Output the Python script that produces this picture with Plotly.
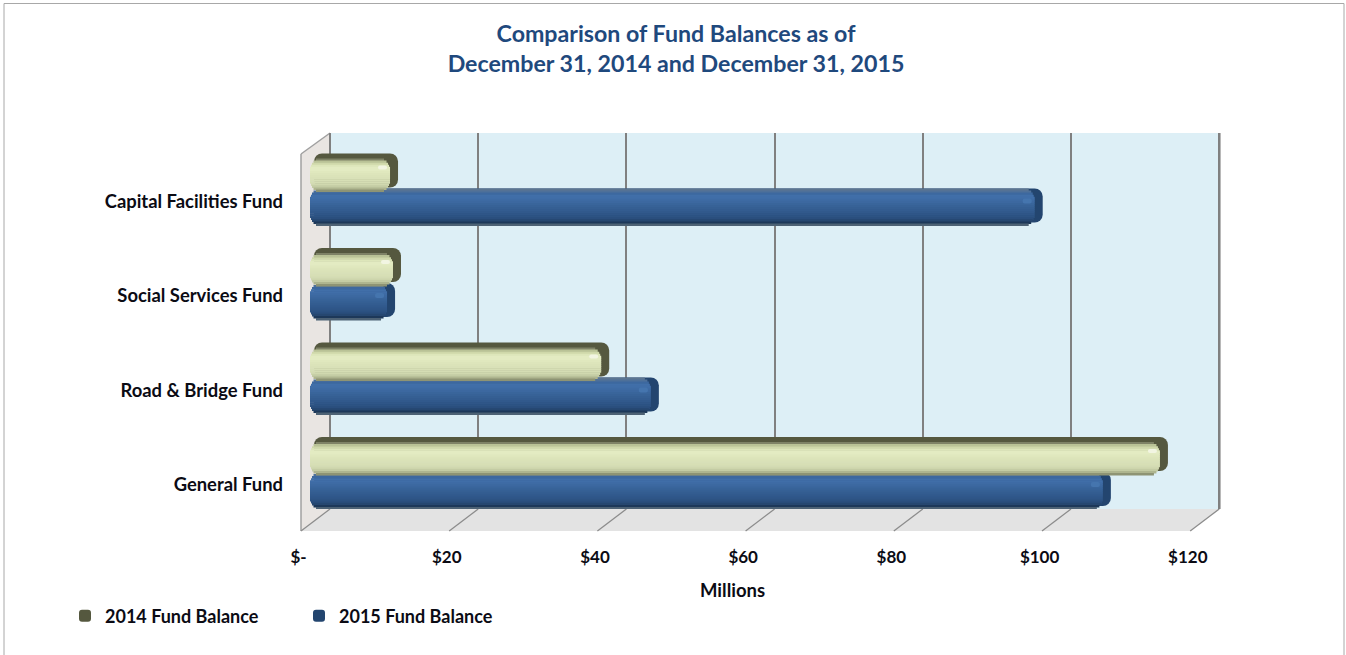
import plotly.graph_objects as go

categories = ["General Fund", "Road & Bridge Fund", "Social Services Fund", "Capital Facilities Fund"]
balance_2014 = [114.7, 39.3, 11.2, 10.8]
balance_2015 = [107.0, 46.0, 10.4, 97.8]
tick_values = [0, 20, 40, 60, 80, 100, 120]
tick_labels = ["$-", "$20", "$40", "$60", "$80", "$100", "$120"]

W, H = 1346, 655
UNIT = 7.41           # pixels per $1 million
ROW = 94.5            # pixels per category
ROW0 = 473            # pixel row of the first category
L, R, T, B = 296, 1222, 133, 509
FONT = "Lato"
INK = "#0B0B14"


def fx(p):
    return p / W


def fy(p):
    return 1 - p / H


def xrange_for(zero_px):
    return [(L - zero_px) / UNIT, (R - zero_px) / UNIT]


def poly(points, fill, line="rgba(0,0,0,0)", width=0):
    path = "M" + " L".join(f"{fx(x):.5f},{fy(y):.5f}" for x, y in points) + " Z"
    return dict(type="path", xref="paper", yref="paper", path=path, fillcolor=fill,
                line=dict(color=line, width=width), layer="below")


def seg(x0, y0, x1, y1, color="#8C8C8C", width=1.3):
    return dict(type="line", xref="paper", yref="paper", x0=fx(x0), y0=fy(y0), x1=fx(x1), y1=fy(y1),
                line=dict(color=color, width=width), layer="below")


shapes = [
    dict(type="rect", xref="paper", yref="paper", x0=fx(4), x1=fx(1344), y0=-0.05, y1=fy(3.5),
         line=dict(color="#A8A8A8", width=1), fillcolor="white", layer="below"),
    poly([(330, T), (1220, T), (1220, B), (330, B)], "#DDEFF6"),
    poly([(301, B + 22), (1190, B + 22), (1220, B), (330, B)], "#E3E3E3"),
    poly([(301, 154), (330, T), (330, B), (301, B + 22)], "#E9E5E2"),
    seg(301, 154, 301, B + 22, "#A0A0A0", 1.5),
    seg(301, 154, 330, T, "#A0A0A0", 1.5),
    seg(330, T, 330, B, "#A0A0A0", 1.5),
    seg(1220, T, 1220, B, "#A0A0A0", 1.5),
]
for k in range(len(tick_values)):
    front, back = 301 + 148.2 * k, 330 + 148.2 * k
    shapes.append(seg(front, B + 22, back, B))

fig = go.Figure()


def band(values, name, top, bottom, inset, color, radius=0, legend=False, grow=0):
    """One horizontal strip of a bar; top/bottom are pixels relative to the row centre."""
    i = inset / UNIT
    fig.add_trace(go.Bar(
        y=categories, x=[v - 2 * i + grow / UNIT for v in values], base=[i] * len(values),
        orientation="h", xaxis="x2", yaxis="y", name=name, showlegend=legend,
        offset=-bottom / ROW, width=(bottom - top) / ROW,
        marker=dict(color=color, line=dict(width=0), cornerradius=radius),
        cliponaxis=False, hoverinfo="x+y" if legend else "skip",
    ))


def face(values, name, top, bottom, stops):
    n = len(stops)
    h = (bottom - top) / n
    for j, c in enumerate(stops):
        edge = min(j, n - 1 - j)
        inset = {0: 6, 1: 3.5, 2: 2, 3: 1}.get(edge, 0)
        band(values, name, top + j * h, top + (j + 1) * h + 0.6, inset, c)


def glint(values, name, top, bottom, color):
    """Small specular spot just inside the bar's right end."""
    fig.add_trace(go.Bar(
        y=categories, x=[9 / UNIT] * len(values), base=[v - 12 / UNIT for v in values],
        orientation="h", xaxis="x2", yaxis="y", name=name, showlegend=False,
        offset=-bottom / ROW, width=(bottom - top) / ROW,
        marker=dict(color=color, line=dict(width=0), cornerradius=2),
        cliponaxis=False, hoverinfo="skip",
    ))


# 2015 series (drawn first, sits behind the 2014 bars)
band(balance_2015, "2015 Fund Balance", -1, 33, 4, "#23456F", radius=8, legend=True, grow=12)
face(balance_2015, "2015 Fund Balance", -1, 36,
     ["#5C7590", "#4E7099", "#3D689F", "#416FA9", "#406EA8", "#3E6BA4", "#3C68A0", "#39659B", "#376297",
      "#355F93", "#335C90", "#31598C", "#2F5688", "#2D5383", "#2A4E7D", "#264770", "#1D3859", "#4D6275"])
glint(balance_2015, "2015 Fund Balance", 9, 14, "#4575AE")

# 2014 series
band(balance_2014, "2014 Fund Balance", -36, -2, 4, "#55583F", radius=8, legend=True, grow=12)
face(balance_2014, "2014 Fund Balance", -31, 2,
     ["#7E8266", "#B9C296", "#CFD8AA", "#DDE6BA", "#E3EBC2", "#E3EBC2", "#E0E8BE", "#DDE5BB",
      "#DBE3B9", "#D9E1B8", "#D7DFB6", "#D5DDB4", "#D0D8AF", "#C4CCA4", "#AEB58F", "#8E9474"])
glint(balance_2014, "2014 Fund Balance", -24, -20, "#F2F5E2")

# carriers for the two extra scales (back-wall gridlines and front tick labels)
for ax in ("x", "x3"):
    fig.add_trace(go.Scatter(x=tick_values, y=[categories[0]] * len(tick_values), xaxis=ax, yaxis="y",
                             mode="lines", opacity=0, showlegend=False, hoverinfo="skip"))

fig.update_layout(
    width=W, height=H, margin=dict(l=0, r=0, t=0, b=0, autoexpand=False),
    paper_bgcolor="white", plot_bgcolor="rgba(0,0,0,0)",
    barmode="overlay", shapes=shapes, showlegend=True,
    font=dict(family=FONT, color=INK),
    title=dict(text="Comparison of Fund Balances as of<br>December 31, 2014 and December 31, 2015",
               x=676 / W, xanchor="center", y=fy(42), yanchor="top",
               font=dict(family=FONT, size=23.2, color="#1F497D", weight="bold")),
    xaxis=dict(domain=[fx(L), fx(R)], range=xrange_for(330), tickvals=tick_values, showticklabels=False,
               showgrid=True, gridcolor="#808080", gridwidth=1.5, zeroline=False, ticks="", anchor="y"),
    xaxis2=dict(overlaying="x", range=xrange_for(310), visible=False, showgrid=False, zeroline=False, anchor="y"),
    xaxis3=dict(overlaying="x", range=xrange_for(298.6), tickvals=tick_values, ticktext=tick_labels,
                showgrid=False, zeroline=False, side="bottom", anchor="free", position=fy(545), ticks="",
                showline=False, tickfont=dict(family=FONT, size=17, color=INK, weight="bold")),
    yaxis=dict(domain=[fy(B), fy(T)], type="category", categoryorder="array", categoryarray=categories,
               range=[(ROW0 - B) / ROW, (ROW0 - T) / ROW], showgrid=False, zeroline=False, ticks="",
               anchor="free", position=fx(283), side="left", showline=False, ticklabelshift=12,
               tickfont=dict(family=FONT, size=18.4, color=INK, weight="bold")),
    annotations=[dict(text="Millions", xref="paper", yref="paper", x=fx(733), y=fy(590), showarrow=False,
                      xanchor="center", yanchor="middle",
                      font=dict(family=FONT, size=18.5, color=INK, weight="bold"))],
    legend=dict(orientation="h", x=fx(65), y=fy(616), xanchor="left", yanchor="middle",
                entrywidth=189, entrywidthmode="pixels", traceorder="reversed", itemclick=False,
                font=dict(family=FONT, size=18, color=INK, weight="bold"), bgcolor="rgba(0,0,0,0)"),
)

fig.write_html("out.html", post_script="document.body.style.margin='0';",
               config=dict(displayModeBar=False))
